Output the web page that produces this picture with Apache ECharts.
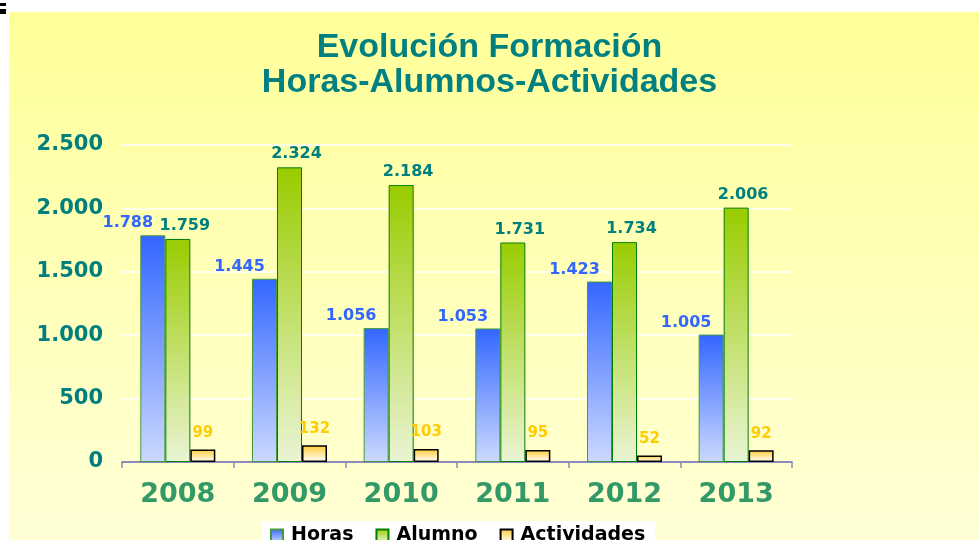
<!DOCTYPE html>
<html><head><meta charset="utf-8">
<script src="https://cdn.jsdelivr.net/npm/echarts@6/dist/echarts.min.js"></script>
<style>html,body{margin:0;padding:0;background:#fff}#c{width:979px;height:540px}</style>
</head><body><div id="c"></div>
<script>
var years = ['2008','2009','2010','2011','2012','2013'];
var horas = [1788,1445,1056,1053,1423,1005];
var alumno = [1759,2324,2184,1731,1734,2006];
var actividades = [99,132,103,95,52,92];
var yTicks = {min:0, max:2500, interval:500};
var titleLines = ['Evolución Formación','Horas-Alumnos-Actividades'];

function fmt(v){ v = (typeof v === 'object') ? v.value : v; return String(v).replace(/\B(?=(\d{3})+(?!\d))/g,'.'); }
function grad(top,bottom){ return new echarts.graphic.LinearGradient(0,0,0,1,[{offset:0,color:top},{offset:1,color:bottom}]); }

var chart = echarts.init(document.getElementById('c'));
var F = 'DejaVu Sans, Verdana, sans-serif';
var TS = {fontFamily:'Liberation Sans, Arial, sans-serif', fontWeight:'bold', fontSize:34, color:'#008080'};
chart.setOption({
  backgroundColor:'#ffffff',
  animation:false,
  graphic:[
    {type:'rect', z:-10, shape:{x:9,y:12,width:980,height:540}, style:{fill:grad('#FFFF99','#FFFFD8')}},
    {type:'rect', z:-10, shape:{x:0,y:3,width:6,height:3}, style:{fill:'#000'}},
    {type:'rect', z:-10, shape:{x:0,y:9,width:6,height:5}, style:{fill:'#000'}}
  ],
  title:[
    {text:titleLines[0], left:'center', top:31, padding:0, textStyle:TS},
    {text:titleLines[1], left:'center', top:66, padding:0, textStyle:TS}
  ],
  legend:{
    top:521, left:262, icon:'rect',
    backgroundColor:'#ffffff', padding:[5,10,8,8],
    itemWidth:12, itemHeight:12, itemGap:22,
    textStyle:{fontFamily:F, fontWeight:'bold', fontSize:19, color:'#000', padding:[0,0,0,3]},
    data:['Horas','Alumno','Actividades']
  },
  grid:{left:122, right:187, top:145, bottom:78, containLabel:false},
  xAxis:{
    type:'category', data:years,
    axisLine:{lineStyle:{color:'#6666AA', width:1.5}},
    axisTick:{show:true, length:6, lineStyle:{color:'#8888BB', width:1.5}},
    axisLabel:{margin:19, fontFamily:F, fontWeight:'bold', fontSize:27, color:'#339966'},
    splitLine:{show:false}
  },
  yAxis:{
    type:'value', min:yTicks.min, max:yTicks.max, interval:yTicks.interval,
    axisLine:{show:false}, axisTick:{show:false},
    axisLabel:{margin:19, fontFamily:F, fontWeight:'bold', fontSize:21, color:'#007F7F', formatter:fmt},
    splitLine:{lineStyle:{color:'#ffffff', width:1.5}}
  },
  series:[
    {name:'Horas', type:'bar', data:horas, barWidth:25, barGap:'0%', barCategoryGap:'33%',
     itemStyle:{color:grad('#3366FF','#CCD9FF'), borderColor:'#44993A', borderWidth:1},
     label:{show:true, position:'top', distance:4, offset:[-25,0], formatter:fmt,
            fontFamily:F, fontWeight:'bold', fontSize:16, color:'#3366FF'}},
    {name:'Alumno', type:'bar', data:alumno, barWidth:25, barGap:'0%',
     itemStyle:{color:grad('#99CC00','#EAF4D4'), borderColor:'#008000', borderWidth:1},
     label:{show:true, position:'top', distance:5, offset:[7,0], formatter:fmt,
            fontFamily:F, fontWeight:'bold', fontSize:16, color:'#007F7F'}},
    {name:'Actividades', type:'bar', data:actividades, barWidth:25, barGap:'0%',
     itemStyle:{color:grad('#FFCC33','#FFFFFF'), borderColor:'#000000', borderWidth:1.5},
     label:{show:true, position:'top', distance:9, formatter:fmt,
            fontFamily:F, fontWeight:'bold', fontSize:15, color:'#FFCC00'}}
  ]
});
</script></body></html>
